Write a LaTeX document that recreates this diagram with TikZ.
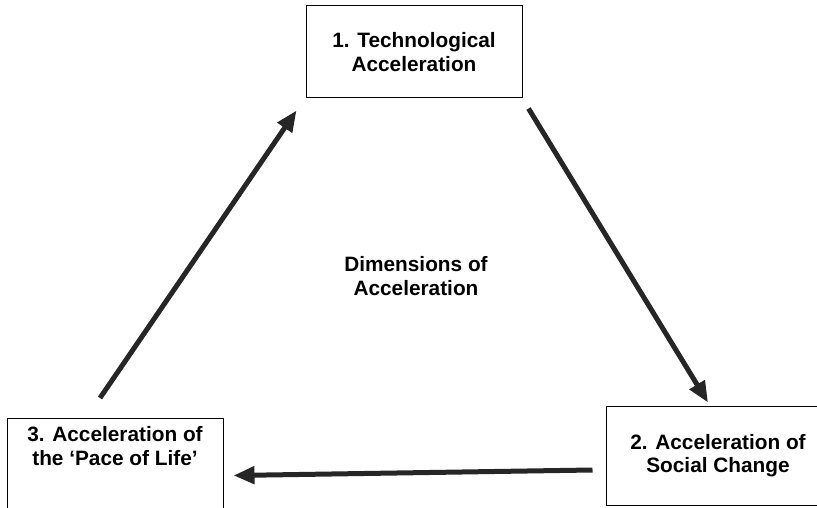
\documentclass[tikz,border=0pt]{standalone}
\usepackage{fontspec}
\setmainfont{Liberation Sans}
\usetikzlibrary{arrows.meta,positioning,calc}

\tikzset{
  dimbox/.style={draw, line width=1pt, minimum width=216pt, inner sep=0pt},
  dimtext/.style={font=\fontsize{20.8}{23.5}\selectfont\bfseries, align=center},
  fatarrow/.style={line width=5pt, color=black!85, -{Triangle[length=21pt,width=17pt]}}
}

\begin{document}
\begin{tikzpicture}[x=1pt,y=-1pt]
    \useasboundingbox (0,0) rectangle (817,508);
    \node[dimbox, minimum height=92pt, dimtext] (tech) at (414,52) {1. Technological\\Acceleration};
    \node[dimbox, minimum width=224pt, minimum height=99pt, dimtext] (social) at (718,455.5) {2. Acceleration of\\Social Change};
    \node[dimbox, minimum height=110pt, anchor=north] (life) at (115,418) {};
    \node[dimtext, below=5pt of life.north] (lifetext) {3. Acceleration of\\the `Pace of Life'};
    \node[dimtext] (centre) at (416,276) {Dimensions of\\Acceleration};

    \draw[fatarrow] ($(life.north)+(-15,-20)$) -- ($(tech.south west)+(-9,12)$);
    \draw[fatarrow] ($(tech.south east)+(6,10)$) -- ($(social.north)+(-10,-3)$);
    \draw[fatarrow] ($(social.west)+(-13,14.5)$) -- ($(life.east)+(10,2)$);
\end{tikzpicture}
\end{document}
